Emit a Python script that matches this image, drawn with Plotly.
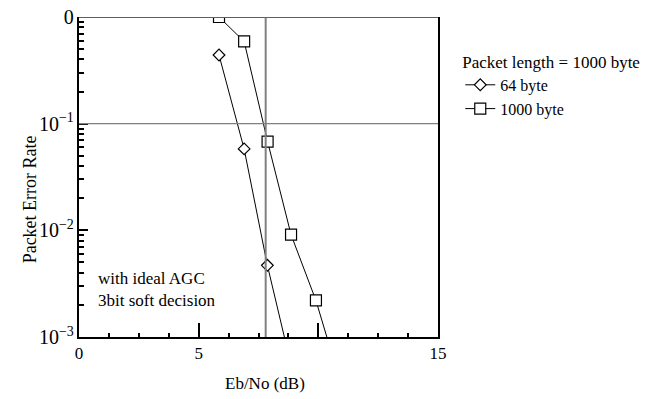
import plotly.graph_objects as go

# Packet error rate vs Eb/No
ebno_64 = [5.85, 6.9, 7.87, 8.9]
per_64 = [0.44, 0.058, 0.0047, 0.0005]

ebno_1000 = [5.85, 6.9, 7.88, 8.86, 9.9, 10.9]
per_1000 = [1.0, 0.59, 0.068, 0.0091, 0.0022, 0.00039]

threshold_ebno = 7.8
threshold_per = 0.1

FONT = "Liberation Serif"

fig = go.Figure()

fig.add_trace(go.Scatter(
    x=ebno_64, y=per_64, name="64 byte", mode="lines+markers",
    line=dict(color="black", width=1),
    marker=dict(symbol="diamond", size=9, color="white",
                line=dict(color="black", width=1.2)),
))
fig.add_trace(go.Scatter(
    x=ebno_1000, y=per_1000, name="1000 byte", mode="lines+markers",
    line=dict(color="black", width=1),
    marker=dict(symbol="square", size=11, color="white",
                line=dict(color="black", width=1.2)),
))

# reference lines
fig.add_vline(x=threshold_ebno, line=dict(color="#808080", width=2))
fig.add_hline(y=threshold_per, line=dict(color="#808080", width=1.2))
fig.add_hline(y=1, line=dict(color="#606060", width=2))

fig.add_annotation(
    text="with ideal AGC<br>3bit soft decision", xref="paper", yref="paper",
    x=0.046, y=0.15, xanchor="left", yanchor="middle", align="left",
    showarrow=False, font=dict(family=FONT, size=17, color="black"),
)
fig.add_annotation(
    text="Packet Error Rate", xref="paper", yref="paper",
    x=-0.17, y=0.43, textangle=-90, showarrow=False,
    font=dict(family=FONT, size=18, color="black"),
)
fig.add_annotation(
    text="Eb/No (dB)", xref="paper", yref="paper",
    x=0.517, y=-0.145, yanchor="middle", showarrow=False,
    font=dict(family=FONT, size=17, color="black"),
)

fig.update_layout(
    width=647, height=399,
    margin=dict(l=79, r=209, t=17, b=62, autoexpand=False),
    paper_bgcolor="white", plot_bgcolor="white",
    font=dict(family=FONT, size=17, color="black"),
    showlegend=True,
    legend=dict(
        x=1.062, y=0.91, xanchor="left", yanchor="top",
        title=dict(text="Packet length = 1000 byte", font=dict(family=FONT, size=17)),
        font=dict(family=FONT, size=16), bgcolor="rgba(0,0,0,0)",
        tracegroupgap=0,
    ),
    xaxis=dict(
        range=[0, 15], tickmode="linear", tick0=0, dtick=5,
        labelalias={"10": " "},
        ticks="inside", ticklen=14, tickwidth=1.5, tickcolor="black",
        showline=True, linecolor="black", linewidth=2, showgrid=False, zeroline=False,
        tickfont=dict(family=FONT, size=17),
        minor=dict(tick0=0, dtick=1.25, ticks="inside", ticklen=4, tickwidth=1.5,
                   tickcolor="black", showgrid=False),
    ),
    yaxis=dict(
        type="log", range=[-3, 0], tickmode="linear", tick0=0, dtick=1,
        exponentformat="power", showexponent="all",
        labelalias={"1": "0"},
        ticks="inside", ticklen=9, tickwidth=1.5, tickcolor="black",
        showline=True, linecolor="black", linewidth=2, mirror=True,
        showgrid=False, zeroline=False,
        tickfont=dict(family=FONT, size=16),
        minor=dict(dtick="D1", ticks="inside", ticklen=5, tickwidth=1.5,
                   tickcolor="black", showgrid=False),
    ),
)

fig.write_html("out.html")
